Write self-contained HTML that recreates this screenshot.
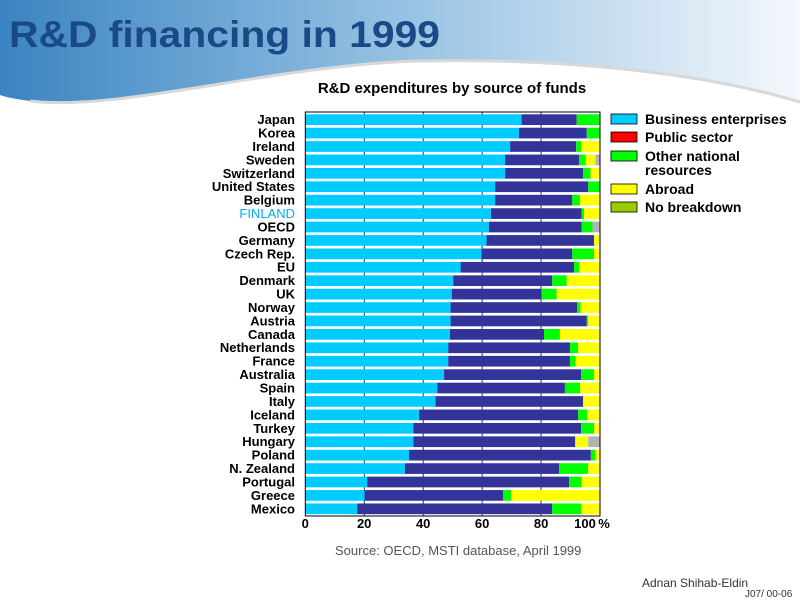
<!DOCTYPE html>
<html><head><meta charset="utf-8"><style>
body{margin:0;width:800px;height:600px;overflow:hidden;background:#fff;font-family:"Liberation Sans",sans-serif;}
</style></head><body>
<svg width="800" height="600" viewBox="0 0 800 600" xmlns="http://www.w3.org/2000/svg" font-family="Liberation Sans, sans-serif">
<defs>
<linearGradient id="g" x1="0" x2="1" y1="0" y2="0">
<stop offset="0" stop-color="#3b84c2"/><stop offset="0.45" stop-color="#8dbce0"/><stop offset="1" stop-color="#f4f8fc"/>
</linearGradient>
</defs>
<path d="M0,0 H800 V102 C700,72 560,58 420,61 C280,64 120,112 30,101 C15,99 5,97 0,95 Z" fill="url(#g)"/>
<path d="M30,101 C120,112 280,64 420,61 C560,58 700,72 800,102" fill="none" stroke="#d8d8d8" stroke-width="3"/>
<text x="9" y="47" font-size="37" font-weight="bold" fill="#1a4a85" textLength="431" lengthAdjust="spacingAndGlyphs">R&amp;D financing in 1999</text>
<text x="452" y="93" font-size="15" font-weight="bold" text-anchor="middle" fill="#000">R&amp;D expenditures by source of funds</text>
<g id="bars"></g>
<g font-size="13" font-weight="bold" text-anchor="end" id="labels"></g>
<rect x="305.3" y="112" width="294.7" height="404" fill="none" stroke="#000" stroke-width="1"/>
<g font-size="13" font-weight="bold" text-anchor="middle">
<text x="305.3" y="528">0</text><text x="364.2" y="528">20</text><text x="423.2" y="528">40</text><text x="482.1" y="528">60</text><text x="541.1" y="528">80</text><text x="585" y="528">100</text><text x="604" y="528">%</text>
</g>
<g font-size="14" font-weight="bold">
<rect x="611" y="114" width="26" height="10" fill="#00ccff" stroke="#000" stroke-width="0.8"/><text x="645" y="124">Business enterprises</text>
<rect x="611" y="132" width="26" height="10" fill="#ff0000" stroke="#000" stroke-width="0.8"/><text x="645" y="142">Public sector</text>
<rect x="611" y="151" width="26" height="10" fill="#00ff00" stroke="#000" stroke-width="0.8"/><text x="645" y="161">Other national</text><text x="645" y="175">resources</text>
<rect x="611" y="184" width="26" height="10" fill="#ffff00" stroke="#000" stroke-width="0.8"/><text x="645" y="194">Abroad</text>
<rect x="611" y="202" width="26" height="10" fill="#99cc00" stroke="#000" stroke-width="0.8"/><text x="645" y="212">No breakdown</text>
</g>
<text x="335" y="555" font-size="13" fill="#555">Source: OECD, MSTI database, April 1999</text>
<text x="642" y="587" font-size="12" fill="#333">Adnan Shihab-Eldin</text>
<text x="745" y="597" font-size="10" fill="#333">J07/ 00-06</text>
</svg>
<script>
var d=[["Japan",73.4,92.1,100,100],["Korea",72.5,95.5,100,100],["Ireland",69.5,91.9,93.6,100],["Sweden",67.8,92.9,95.2,98.5],["Switzerland",67.8,94.3,96.8,100],["United States",64.4,96.0,100,100],["Belgium",64.4,90.6,93.2,100],["FINLAND",63.0,93.8,94.6,100],["OECD",62.3,93.8,97.5,97.5],["Germany",61.5,98.0,98.0,100],["Czech Rep.",59.8,90.6,98.0,100],["EU",52.7,91.2,92.9,100],["Denmark",50.2,83.8,88.7,100],["UK",49.7,80.2,85.3,100],["Norway",49.3,92.3,93.4,100],["Austria",49.3,95.5,96.0,100],["Canada",49.1,81.0,86.4,100],["Netherlands",48.5,89.8,92.6,100],["France",48.5,89.8,91.7,100],["Australia",47.1,93.6,98.0,100],["Spain",44.8,88.1,93.2,100],["Italy",44.2,94.3,94.3,100],["Iceland",38.6,92.6,95.7,100],["Turkey",36.7,93.6,98.0,100],["Hungary",36.7,91.6,91.6,96.0],["Poland",35.2,96.9,98.5,100],["N. Zealand",33.8,86.1,96.0,100],["Portugal",21.0,89.5,93.8,100],["Greece",20.1,67.1,69.8,100],["Mexico",17.6,83.8,93.6,100]];
var ns="http://www.w3.org/2000/svg",b=document.getElementById("bars"),L=document.getElementById("labels");
function r(x,y,w,h,c){if(w<=0)return;var e=document.createElementNS(ns,"rect");e.setAttribute("x",x);e.setAttribute("y",y);e.setAttribute("width",w);e.setAttribute("height",h);e.setAttribute("fill",c);b.appendChild(e);}
var X0=305.3,S=2.947;
[20,40,60,80].forEach(function(p){var l=document.createElementNS(ns,"line");var x=X0+p*S;l.setAttribute("x1",x);l.setAttribute("x2",x);l.setAttribute("y1",112);l.setAttribute("y2",516);l.setAttribute("stroke","#000");l.setAttribute("stroke-width","0.8");b.appendChild(l);});
d.forEach(function(v,i){var y=114.3+i*13.42,h=10.7;
var s=[0,v[1],v[2],v[3],v[4],100],c=["#00ccff","#333399","#00ff00","#ffff00","#b2b2b2"];
for(var k=0;k<5;k++)r(X0+s[k]*S,y,(s[k+1]-s[k])*S,h,c[k]);
var t=document.createElementNS(ns,"text");t.setAttribute("x",295);t.setAttribute("y",y+9.8);t.textContent=v[0];
if(v[0]=="FINLAND"){t.setAttribute("fill","#00aaff");t.setAttribute("font-weight","normal");}
L.appendChild(t);});
</script>
</body></html>
